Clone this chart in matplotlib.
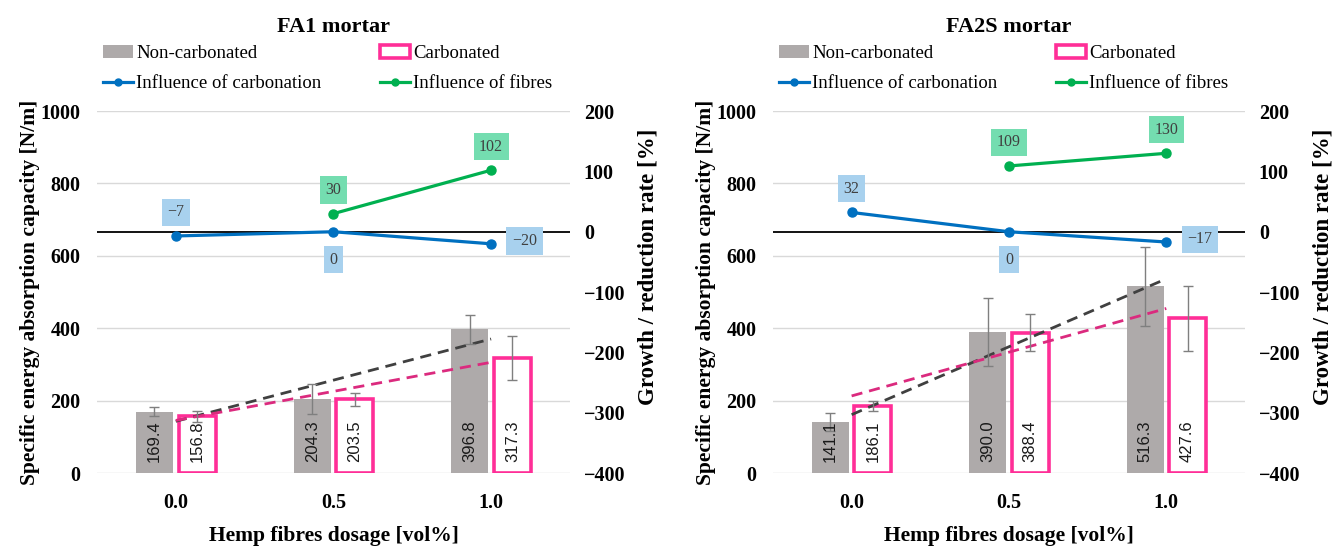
import numpy as np
import matplotlib.pyplot as plt
from matplotlib.patches import Patch
from matplotlib.lines import Line2D

# ---- data ----
dosage_labels = ['0.0', '0.5', '1.0']

fa1_noncarb = [169.4, 204.3, 396.8]
fa1_noncarb_err = [12, 41, 40]
fa1_carb = [156.8, 203.5, 317.3]
fa1_carb_err = [15, 17, 61]
fa1_infl_carb = [-7, 0, -20]
fa1_infl_fibres = [30, 102]          # at 0.5 and 1.0

fa2s_noncarb = [141.1, 390.0, 516.3]
fa2s_noncarb_err = [24, 95, 109]
fa2s_carb = [186.1, 388.4, 427.6]
fa2s_carb_err = [14, 52, 90]
fa2s_infl_carb = [32, 0, -17]
fa2s_infl_fibres = [109, 130]

# where each line label sits relative to its point
fa1_carb_pos = ['above', 'below', 'right']
fa2s_carb_pos = ['above', 'below', 'right']

GREY = '#AEAAAA'
PINK = '#FF2E97'
PINK_TREND = '#DB2A7E'
BLUE = '#0070C0'
GREEN = '#00B050'
SERIF = ['Liberation Serif', 'DejaVu Serif']

plt.rcParams['font.family'] = SERIF

fig = plt.figure(figsize=(13.41, 5.47), dpi=100)

OFFSETS = {'above': ((0, 17), 'center', 'center'),
           'below': ((0, -20), 'center', 'center'),
           'right': ((24, 2), 'center', 'center')}


def label_point(ax, x, y, txt, where, fc):
    off, ha, va = OFFSETS[where]
    ax.annotate(txt, (x, y), xytext=off, textcoords='offset points',
                ha=ha, va=va, fontsize=11.5, color='#404040', family=SERIF,
                bbox=dict(boxstyle='square,pad=0.35', fc=fc, ec='none'))


def panel(rect, title, noncarb, noncarb_err, carb, carb_err,
          infl_carb, infl_fibres, carb_pos):
    ax = fig.add_axes(rect)
    x = np.arange(len(dosage_labels))
    w = 0.235
    off = 0.135

    ax.bar(x - off, noncarb, w, color=GREY, zorder=2)
    ax.bar(x + off, carb, w, facecolor='white', edgecolor=PINK,
           linewidth=2.6, zorder=2)
    ax.errorbar(x - off, noncarb, yerr=noncarb_err, fmt='none',
                ecolor='#7F7F7F', elinewidth=1, capsize=3.5, zorder=4)
    ax.errorbar(x + off, carb, yerr=carb_err, fmt='none',
                ecolor='#7F7F7F', elinewidth=1, capsize=3.5, zorder=4)

    for xi, v in zip(x - off, noncarb):
        ax.text(xi, 30, f'{v:.1f}', rotation=90, ha='center', va='bottom',
                fontsize=12, family='Liberation Sans', color='#1a1a1a', zorder=5)
    for xi, v in zip(x + off, carb):
        ax.text(xi, 30, f'{v:.1f}', rotation=90, ha='center', va='bottom',
                fontsize=12, family='Liberation Sans', color='#1a1a1a', zorder=5)

    # linear trend lines of the two bar series
    for vals, col in [(noncarb, '#404040'), (carb, PINK_TREND)]:
        k, b = np.polyfit(x, vals, 1)
        ax.plot(x, k * x + b, ls=(0, (4, 2.5)), color=col, lw=2, zorder=3)

    ax.set_ylim(0, 1000)
    ax.set_yticks(range(0, 1001, 200))
    ax.set_xlim(-0.5, 2.5)
    ax.set_xticks(x)
    ax.set_xticklabels(dosage_labels)
    ax.grid(axis='y', color='#D9D9D9', lw=1, zorder=0)
    ax.set_axisbelow(True)
    for s in ax.spines.values():
        s.set_visible(False)
    ax.tick_params(length=0, labelsize=14.5)
    ax.tick_params(axis='y', pad=12)
    ax.tick_params(axis='x', pad=14)
    for t in ax.get_xticklabels() + ax.get_yticklabels():
        t.set_fontweight('bold')
    ax.set_ylabel('Specific energy absorption capacity [N/m]', fontsize=15.5,
                  fontweight='bold', labelpad=0)
    ax.set_xlabel('Hemp fibres dosage [vol%]', fontsize=15.5,
                  fontweight='bold', labelpad=10)
    ax.set_title(title, fontsize=16, fontweight='bold', pad=57)

    ax2 = ax.twinx()
    ax2.set_ylim(-400, 200)
    ax2.set_yticks(range(-400, 201, 100))
    ax2.set_yticklabels([str(t).replace('-', '\u2212') for t in range(-400, 201, 100)])
    ax2.axhline(0, color='black', lw=1.3, zorder=1)
    ax2.plot(x, infl_carb, color=BLUE, lw=2.3, marker='o', ms=6.5, zorder=3)
    ax2.plot(x[1:], infl_fibres, color=GREEN, lw=2.3, marker='o', ms=6.5, zorder=3)
    for xi, v, where in zip(x, infl_carb, carb_pos):
        label_point(ax2, xi, v, str(v).replace('-', '\u2212'), where, '#A8D1EE')
    for xi, v in zip(x[1:], infl_fibres):
        label_point(ax2, xi, v, str(v), 'above', '#74DDB0')
    for s in ax2.spines.values():
        s.set_visible(False)
    ax2.tick_params(length=0, labelsize=14.5, pad=10)
    for t in ax2.get_yticklabels():
        t.set_fontweight('bold')
    ax2.set_ylabel('Growth / reduction rate [%]', fontsize=16.5,
                   fontweight='bold', va='center')
    ax2.yaxis.set_label_coords(1.165, 0.57)

    handles = [Patch(facecolor=GREY, edgecolor='none'),
               Line2D([], [], color=BLUE, lw=2.3, marker='o', ms=5),
               Patch(facecolor='white', edgecolor=PINK, linewidth=2.6),
               Line2D([], [], color=GREEN, lw=2.3, marker='o', ms=5)]
    names = ['Non-carbonated', 'Influence of carbonation',
             'Carbonated', 'Influence of fibres']
    ax2.legend(handles, names, ncol=2, loc='lower left',
               bbox_to_anchor=(0.0, 1.036), frameon=False, fontsize=13.5,
               handlelength=1.6, handletextpad=0.2, columnspacing=3.1,
               labelspacing=0.7, borderaxespad=0.2, borderpad=0.1)


panel([0.0723, 0.135, 0.3527, 0.662], 'FA1 mortar',
      fa1_noncarb, fa1_noncarb_err, fa1_carb, fa1_carb_err,
      fa1_infl_carb, fa1_infl_fibres, fa1_carb_pos)
panel([0.5764, 0.135, 0.352, 0.662], 'FA2S mortar',
      fa2s_noncarb, fa2s_noncarb_err, fa2s_carb, fa2s_carb_err,
      fa2s_infl_carb, fa2s_infl_fibres, fa2s_carb_pos)

fig.savefig('out.png', dpi=100, facecolor='white')
